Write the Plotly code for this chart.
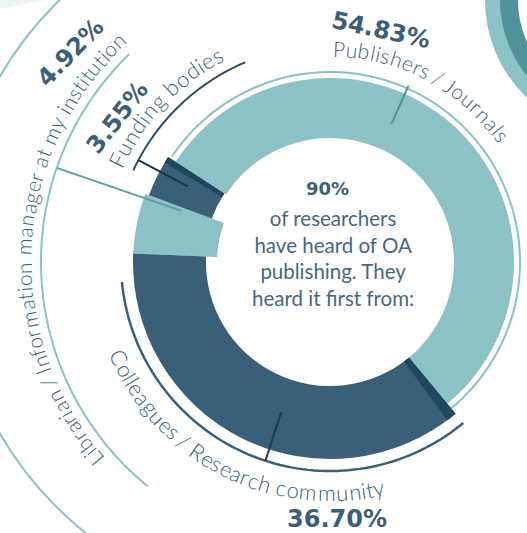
import numpy as np
import plotly.graph_objects as go

# ---------------- data ----------------
categories = ["Publishers / Journals", "Colleagues / Research community",
              "Librarian / Information manager at my institution", "Funding bodies"]
shares = [54.83, 36.70, 4.92, 3.55]
share_labels = ["54.83%", "36.70%", "4.92%", "3.55%"]
headline_value = "90%"
headline_lines = ["of researchers", "have heard of OA", "publishing. They", "heard it first from:"]

# ---------------- geometry / style ----------------
W, H = 527, 533
OFF = 0                    # page offset of the figure inside the browser window
CX, CY = 330, 262          # centre of the ring (window pixels)
START = 147.0              # math angle where the first slice starts (slices run clockwise)
LIGHT = "#8cc1c6"
DARK = "#3a6079"
DARKER = "#1f4760"
TEAL = "#50949a"
TXT = "#3a5f78"
TXT2 = "#456882"

# ring radii per slice (inner, outer)
radii = [(124, 184), (124, 197), (113, 197), (126, 193)]
fills = [LIGHT, DARK, LIGHT, DARK]

total = sum(shares)
bounds = []
a = START
for s in shares:
    b = a - s / total * 360.0
    bounds.append((a, b))
    a = b


def pxy(r, ang):
    t = np.radians(ang)
    return CX + r * np.cos(t), CY - r * np.sin(t)


def arc_path(r, a0, a1, n=80):
    angs = np.linspace(a0, a1, n)
    pts = [pxy(r, g) for g in angs]
    return "M " + " L ".join(f"{x:.2f},{y:.2f}" for x, y in pts)


def sector_path(r0, r1, a0, a1, n=30):
    angs = np.linspace(a0, a1, n)
    pts = [pxy(r1, g) for g in angs] + [pxy(r0, g) for g in angs[::-1]]
    return "M " + " L ".join(f"{x:.2f},{y:.2f}" for x, y in pts) + " Z"


fig = go.Figure()

# invisible trace to establish the pixel-mapped cartesian axes
fig.add_trace(go.Scatter(x=[OFF, OFF + W], y=[OFF, OFF + H], mode="markers",
                         marker=dict(opacity=0), hoverinfo="skip", showlegend=False))

# ---------------- slices as pies (one highlighted slice per pie) ----------------
pcx, pcy = CX - OFF, CY - OFF
draw_order = [2, 0, 1, 3]
for idx in draw_order:
    r_in, r_out = radii[idx]
    colors = ["rgba(0,0,0,0)"] * len(shares)
    colors[idx] = fills[idx]
    fig.add_trace(go.Pie(
        labels=categories, values=shares, sort=False, direction="clockwise",
        rotation=90 - START, hole=r_in / r_out,
        marker=dict(colors=colors, line=dict(width=0)),
        textinfo="none", hoverinfo="skip", showlegend=False,
        domain=dict(x=[max(0, (pcx - r_out) / W), min(1, (pcx + r_out) / W)],
                    y=[(H - pcy - r_out) / H, (H - pcy + r_out) / H]),
    ))

shapes = []
# decorative neighbours
shapes.append(dict(type="path", xref="x", yref="y", path="M 0,0 L 46,0 Q 20,5 0,9 Z",
                   fillcolor="#eef4f5", line=dict(width=0), layer="below"))
for rr, col in [(135, LIGHT), (120, TEAL), (102, "white")]:
    shapes.append(dict(type="circle", xref="x", yref="y", x0=620 - rr, x1=620 + rr,
                       y0=-rr, y1=rr, fillcolor=col, line=dict(width=0), layer="below"))
shapes.append(dict(type="circle", xref="x", yref="y", x0=308 - 356, x1=308 + 356,
                   y0=255 - 356, y1=255 + 356, line=dict(color=LIGHT, width=2), layer="below"))

# label arcs
pub, col_, lib, fund = bounds
shapes.append(dict(type="path", xref="x", yref="y", path=arc_path(190, pub[0] - 0.8, pub[1]),
                   line=dict(color=LIGHT, width=2)))
shapes.append(dict(type="path", xref="x", yref="y", path=arc_path(209, col_[0], col_[1] + 8),
                   line=dict(color=DARK, width=2.5)))
shapes.append(dict(type="path", xref="x", yref="y", path=arc_path(217, 155, 113),
                   line=dict(color="#2b4f68", width=2)))
shapes.append(dict(type="path", xref="x", yref="y", path=arc_path(289, 231, 134),
                   line=dict(color=LIGHT, width=2)))

# dark edge stripes
shapes.append(dict(type="path", xref="x", yref="y", path=sector_path(124, 197, pub[1], pub[1] - 3),
                   fillcolor=DARKER, line=dict(width=0)))
shapes.append(dict(type="path", xref="x", yref="y", path=sector_path(126, 193, fund[1], fund[1] + 2),
                   fillcolor=DARKER, line=dict(width=0)))


# ticks / leaders
def tick(ang, r0, r1, color, w=2):
    x0, y0 = pxy(r0, ang)
    x1, y1 = pxy(r1, ang)
    shapes.append(dict(type="line", xref="x", yref="y", x0=x0, y0=y0, x1=x1, y1=y1,
                       line=dict(color=color, width=w)))


tick(66, 151, 193, TEAL)
tick(-108, 158, 209, "#1c3a50")
tick(152, 161, 217, "#1b3549")
tick(161, 157, 289, "#5aa0a6")

# ---------------- text ----------------
CW = {'i': .23, 'l': .23, 'j': .23, 't': .33, 'f': .31, 'r': .36, ' ': .25, '/': .36, '.': .22,
      ':': .22, 'I': .27, 'J': .37, 'm': .83, 'w': .75, 'C': .66, 'R': .6, 'P': .58, 'F': .52,
      'L': .48, 'O': .75, 'A': .67, 's': .41, 'c': .46, 'a': .49, 'e': .51, 'y': .48, 'g': .5,
      'u': .55, 'n': .55, 'o': .55, 'h': .55, 'b': .56, 'd': .56, 'p': .56, 'k': .49, 'v': .48}
annotations = []
LABEL_FONT = "Lato"


def arc_text(s, r, a0, a1, size, color, outward=True):
    ws = [CW.get(ch, .52) for ch in s]
    tot = sum(ws)
    cum = 0.0
    for ch, w in zip(s, ws):
        frac = (cum + w / 2) / tot
        cum += w
        if ch == " ":
            continue
        ang = a0 + (a1 - a0) * frac
        x, y = pxy(r, ang)
        rot = 90 - ang if outward else -ang - 90
        rot = ((rot + 180) % 360) - 180
        annotations.append(dict(x=x, y=y, xref="x", yref="y", text=ch, showarrow=False,
                                textangle=rot, xanchor="center", yanchor="middle",
                                font=dict(family=LABEL_FONT, size=size, color=color, weight=300)))


arc_text(categories[0], 214, 89.5, 35, 21, TXT, outward=True)
arc_text(categories[1], 231, -157.5, -76.5, 22, TXT, outward=False)
arc_text(categories[3], 236, 156, 117.5, 22, TXT, outward=True)
arc_text(categories[2], 307, 221, 132.5, 21, TXT, outward=True)

BOLD = dict(family="DejaVu Sans", size=24, color=DARK)
for lbl, (x, y, rot) in zip(share_labels, [(381, 30, 12), (337, 519, 0), (70, 53, -46), (117, 118, -52)]):
    annotations.append(dict(x=x, y=y, xref="x", yref="y", text=f"<b>{lbl}</b>", showarrow=False,
                            textangle=rot, xanchor="center", yanchor="middle", font=BOLD))

annotations.append(dict(x=327, y=188, xref="x", yref="y", text=f"<b>{headline_value}</b>",
                        showarrow=False, xanchor="center", yanchor="middle",
                        font=dict(family="DejaVu Sans", size=18, color=DARK)))
annotations.append(dict(x=333, y=258, xref="x", yref="y", text="<br>".join(headline_lines),
                        showarrow=False, xanchor="center", yanchor="middle", align="center",
                        font=dict(family=LABEL_FONT, size=20.5, color=TXT2, weight=400)))

fig.update_layout(
    width=W, height=H, margin=dict(l=0, r=0, t=0, b=0),
    paper_bgcolor="white", plot_bgcolor="white",
    xaxis=dict(range=[OFF, OFF + W], visible=False, fixedrange=True),
    yaxis=dict(range=[OFF + H, OFF], visible=False, fixedrange=True),
    shapes=shapes, annotations=annotations, showlegend=False,
)

fig.write_html("out.html", config={"displayModeBar": False},
               post_script="document.body.style.margin='0px';")
